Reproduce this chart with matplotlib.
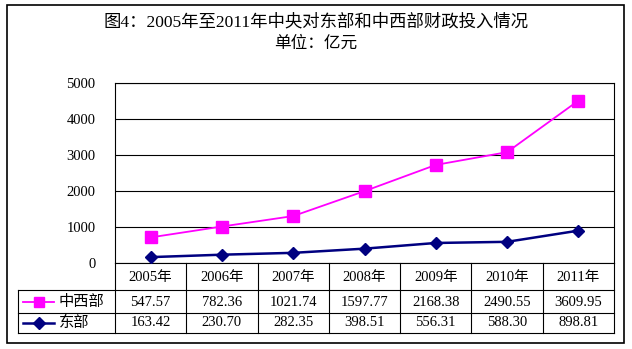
import numpy as np
import matplotlib
matplotlib.use('Agg')
import matplotlib.pyplot as plt
import matplotlib.transforms as mtransforms
from matplotlib.lines import Line2D
from matplotlib.patches import Rectangle

# 数据
years = ['2005年', '2006年', '2007年', '2008年', '2009年', '2010年', '2011年']
zhongxi = [547.57, 782.36, 1021.74, 1597.77, 2168.38, 2490.55, 3609.95]
dongbu = [163.42, 230.70, 282.35, 398.51, 556.31, 588.30, 898.81]

plt.rcParams['font.family'] = ['Liberation Serif', 'Noto Sans CJK SC']

W, H = 632, 349


def fx(p):
    return p / W


def fy(p):
    return 1 - p / H


fig = plt.figure(figsize=(W / 100, H / 100), dpi=100)

# 外框
fig.add_artist(Rectangle((fx(7), fy(343)), fx(624) - fx(7), fy(5) - fy(343),
                         transform=fig.transFigure, fill=False, ec='black', lw=1.2))

fig.text(0.5, fy(22), '图4：2005年至2011年中央对东部和中西部财政投入情况',
         ha='center', va='center', fontsize=12.5)
fig.text(0.5, fy(44), '单位：亿元', ha='center', va='center', fontsize=12)

# 折线图（堆积）
ax = fig.add_axes([fx(115), fy(263), fx(614) - fx(115), fy(83) - fy(263)])
x = np.arange(len(years))
stacked = np.array(dongbu) + np.array(zhongxi)
ax.plot(x, stacked, color='#FF00FF', marker='s', ms=8, lw=1.3, clip_on=False, zorder=3)
ax.plot(x, dongbu, color='#000080', marker='D', ms=6.5, lw=1.8, clip_on=False, zorder=3)

ax.set_xlim(-0.5, len(years) - 0.5)
ax.set_ylim(0, 5000)
ax.set_yticks(range(0, 5001, 1000))
ax.set_xticks([])
ax.yaxis.grid(True, color='black', lw=0.8)
ax.set_axisbelow(True)
ax.tick_params(axis='y', length=0, pad=14, labelsize=10.5)
for s in ax.spines.values():
    s.set_color('black')
    s.set_linewidth(0.8)

# 数据表
trans = mtransforms.blended_transform_factory(ax.transData, fig.transFigure)
lw = 0.8
for py in [290, 313, 333]:
    fig.add_artist(Line2D([fx(18), fx(614)], [fy(py), fy(py)],
                          transform=fig.transFigure, color='black', lw=lw))
fig.add_artist(Line2D([fx(18), fx(18)], [fy(290), fy(333)],
                      transform=fig.transFigure, color='black', lw=lw))
for xb in np.arange(len(years) + 1) - 0.5:
    fig.add_artist(Line2D([xb, xb], [fy(263), fy(333)], transform=trans,
                          color='black', lw=lw))

for i in range(len(years)):
    fig.text(i, fy(277), years[i], transform=trans, ha='center', va='center', fontsize=10.5)
    fig.text(i, fy(302), '%.2f' % zhongxi[i], transform=trans, ha='center', va='center', fontsize=10.5)
    fig.text(i, fy(323), '%.2f' % dongbu[i], transform=trans, ha='center', va='center', fontsize=10.5)

# 图例
fig.add_artist(Line2D([fx(23), fx(54)], [fy(302), fy(302)], transform=fig.transFigure,
                      color='#FF00FF', lw=1.3))
fig.add_artist(Line2D([fx(39)], [fy(302)], transform=fig.transFigure,
                      color='#FF00FF', marker='s', ms=7))
fig.add_artist(Line2D([fx(23), fx(54)], [fy(323), fy(323)], transform=fig.transFigure,
                      color='#000080', lw=1.8))
fig.add_artist(Line2D([fx(39)], [fy(323)], transform=fig.transFigure,
                      color='#000080', marker='D', ms=6))
fig.text(fx(59), fy(302), '中西部', ha='left', va='center', fontsize=11)
fig.text(fx(59), fy(323), '东部', ha='left', va='center', fontsize=11)

fig.savefig('out.png', dpi=100)
